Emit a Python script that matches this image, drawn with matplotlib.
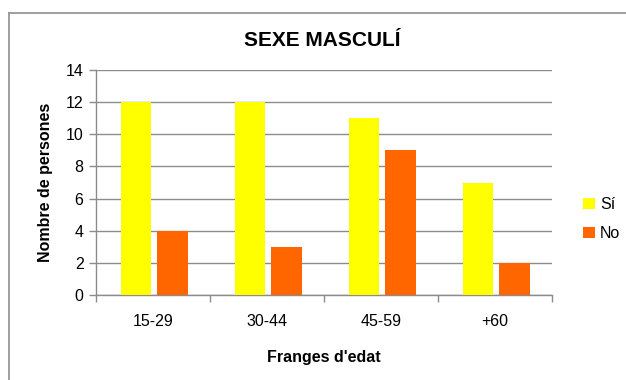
import matplotlib.pyplot as plt
from matplotlib.lines import Line2D
from matplotlib.patches import Patch
import numpy as np

plt.rcParams['font.family'] = ['Liberation Sans', 'DejaVu Sans']

categories = ['15-29', '30-44', '45-59', '+60']
si_values = [12, 12, 11, 7]
no_values = [4, 3, 9, 2]
series_labels = ['Sí', 'No']
yticks = [0, 2, 4, 6, 8, 10, 12, 14]

W, H = 626, 380
fig = plt.figure(figsize=(W / 100, H / 100), dpi=100)

# chart-area frame (top and left edges)
fx, fy = 8.5 / W, 1 - 12.5 / H
fig.lines.append(Line2D([fx, 1.0], [fy, fy], transform=fig.transFigure,
                        color='#909090', linewidth=1.2))
fig.lines.append(Line2D([fx, fx], [0.0, fy], transform=fig.transFigure,
                        color='#909090', linewidth=1.2))

ax = fig.add_axes([96 / W, 1 - 295 / H, (552 - 96) / W, (295 - 70) / H])

x = np.arange(len(categories))
bw = 0.27
gap = 0.05
ax.bar(x - (bw + gap) / 2 + 0.01, si_values, width=bw, color='#ffff00', zorder=3)
ax.bar(x + (bw + gap) / 2 + 0.01, no_values, width=bw, color='#ff6600', zorder=3)

ax.set_xlim(-0.5, len(categories) - 0.5)
ax.set_ylim(0, 14)
ax.set_yticks(yticks)
ax.set_yticklabels([str(v) for v in yticks], fontsize=11.5)
ax.yaxis.grid(True, color='#8c8c8c', linewidth=1.0, zorder=0)

ax.set_xticks(x)
ax.set_xticklabels(categories, fontsize=11.5)
ax.tick_params(axis='x', which='major', length=0, pad=14)
ax.set_xticks(np.arange(len(categories) + 1) - 0.5, minor=True)
ax.tick_params(axis='x', which='minor', length=5, color='#8c8c8c', width=1.0)
ax.tick_params(axis='y', length=5, color='#8c8c8c', width=1.0, pad=4)

for side in ['top', 'right']:
    ax.spines[side].set_visible(False)
for side in ['left', 'bottom']:
    ax.spines[side].set_color('#8c8c8c')
    ax.spines[side].set_linewidth(1.0)

ax.set_xlabel("Franges d'edat", fontsize=11.5, fontweight='bold', labelpad=15)
ax.set_ylabel('Nombre de persones', fontsize=11.5, fontweight='bold', labelpad=9)

fig.text(322 / W, 1 - 40 / H, 'SEXE MASCULÍ', ha='center', va='center',
         fontsize=15, fontweight='bold')

handles = [Patch(facecolor='#ffff00'), Patch(facecolor='#ff6600')]
fig.legend(handles, series_labels, loc='center left',
           bbox_to_anchor=(569 / W, 1 - 219 / H), frameon=False, fontsize=11.5,
           handlelength=0.7, handleheight=0.7, handletextpad=0.35, labelspacing=0.9)

fig.savefig('out.png', dpi=100)
